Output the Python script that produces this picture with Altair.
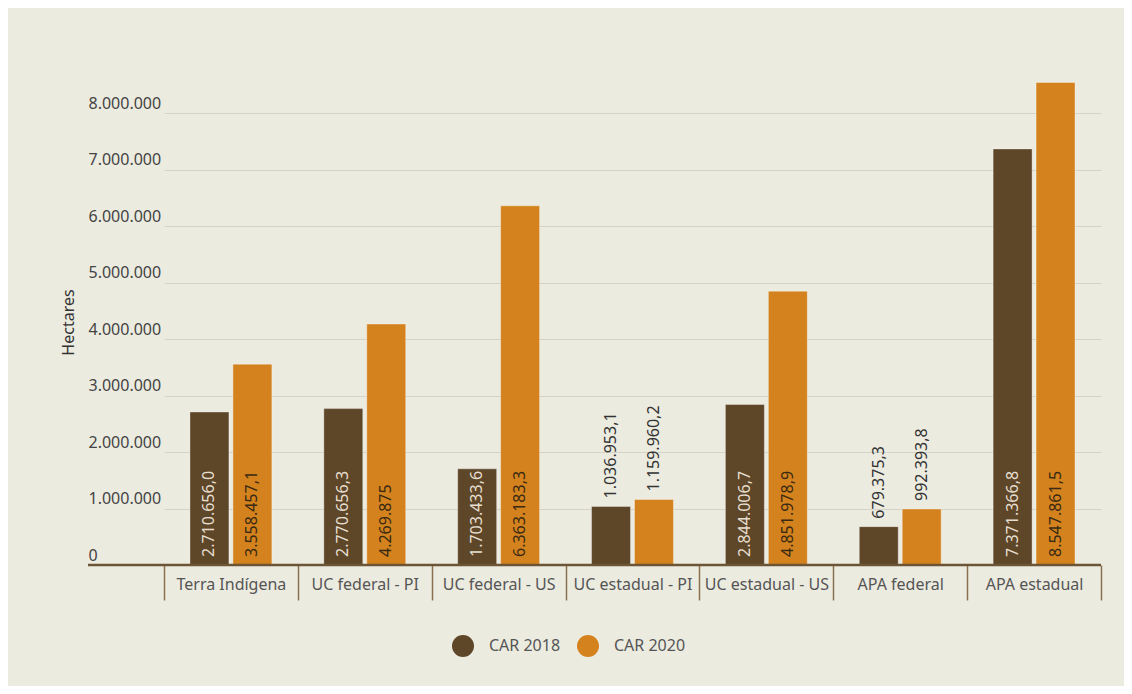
import altair as alt
import pandas as pd

categories = ["Terra Indígena", "UC federal - PI", "UC federal - US", "UC estadual - PI",
              "UC estadual - US", "APA federal", "APA estadual"]
car2018 = [2710656.0, 2770656.3, 1703433.6, 1036953.1, 2844006.7, 679375.3, 7371366.8]
car2020 = [3558457.1, 4269875.0, 6363183.3, 1159960.2, 4851978.9, 992393.8, 8547861.5]
labels2018 = ["2.710.656,0", "2.770.656,3", "1.703.433,6", "1.036.953,1", "2.844.006,7", "679.375,3", "7.371.366,8"]
labels2020 = ["3.558.457,1", "4.269.875", "6.363.183,3", "1.159.960,2", "4.851.978,9", "992.393,8", "8.547.861,5"]
series = ["CAR 2018", "CAR 2020"]
y_ticks = [0, 1000000, 2000000, 3000000, 4000000, 5000000, 6000000, 7000000, 8000000]

rows = []
for c, v, l in zip(categories, car2018, labels2018):
    rows.append({"cat": c, "serie": series[0], "value": v, "label": l})
for c, v, l in zip(categories, car2020, labels2020):
    rows.append({"cat": c, "serie": series[1], "value": v, "label": l})
df = pd.DataFrame(rows)

BROWN = "#5E4628"
ORANGE = "#D4821E"

x_enc = alt.X("cat:N", sort=categories, title=None,
              scale=alt.Scale(range=[76, 1013], paddingInner=0, paddingOuter=0),
              axis=alt.Axis(tickBand="extent", domain=False, ticks=True, tickColor="#8A7050",
                            tickWidth=1.5, tickSize=35, labelPadding=-24, labelAngle=0,
                            labelFontSize=16, labelColor="#555555", labelOverlap=False,
                            labelLimit=300, labelBaseline="top", grid=False))
xo_enc = alt.XOffset("serie:N", sort=series,
                     scale=alt.Scale(paddingInner=0.093, paddingOuter=0.605))

y_scale = alt.Scale(domain=[0, 9000000], nice=False)

base = alt.Chart(df)

bars = base.mark_bar(stroke="#ffffff", strokeOpacity=0.35, strokeWidth=1).encode(
    x=x_enc,
    xOffset=xo_enc,
    y=alt.Y("value:Q", scale=y_scale, title="Hectares",
            axis=alt.Axis(values=y_ticks, grid=True, gridColor="#D5D3C6", gridWidth=1,
                          ticks=False, tickSize=0, domain=False, labelAlign="left",
                          labelBaseline="alphabetic", labelPadding=0, labelOffset=-5,
                          labelFontSize=16, labelColor="#444444",
                          labelExpr="replace(replace(format(datum.value, ','), ',', '.'), ',', '.')",
                          titleX=-20, titleY=265, titleAngle=270, titleAlign="center",
                          titleBaseline="middle", titleFontSize=16, titleFontWeight="normal",
                          titleColor="#333333")),
    color=alt.Color("serie:N", sort=series,
                    scale=alt.Scale(domain=series, range=[BROWN, ORANGE]),
                    legend=alt.Legend(title=None, orient="none", legendX=364, legendY=578,
                                      direction="horizontal", symbolType="circle",
                                      symbolSize=484, symbolStrokeWidth=0, labelFontSize=16,
                                      labelColor="#555555", labelOffset=15, columnPadding=16,
                                      padding=0)),
)

texts = base.transform_calculate(
    inside="datum.value > 1500000",
).transform_calculate(
    labelpos="datum.inside ? 0 : datum.value",
    tcolor="datum.inside ? (datum.serie == 'CAR 2018' ? '#E6DFD0' : '#3A2A12') : '#333333'",
).mark_text(angle=270, align="left", baseline="middle", dx=8, fontSize=16).encode(
    x=alt.X("cat:N", sort=categories),
    xOffset=alt.XOffset("serie:N", sort=series),
    y=alt.Y("labelpos:Q", scale=y_scale),
    text=alt.Text("label:N"),
    color=alt.Color("tcolor:N", scale=None),
)

axis_line = alt.Chart(pd.DataFrame({"z": [0]})).mark_rule(color="#6B5535", strokeWidth=2.5).encode(
    y=alt.Y("z:Q", scale=y_scale)
)

chart = alt.layer(bars, texts, axis_line).properties(
    width=1013, height=508,
    padding={"left": 80, "top": 49, "right": 23, "bottom": 121},
    autosize=alt.AutoSizeParams(type="none"),
).configure(
    background="#ECEBE0",
    font="Noto Sans",
).configure_view(stroke=None)

chart.save("out.html", embed_options={"renderer": "svg", "actions": False})
